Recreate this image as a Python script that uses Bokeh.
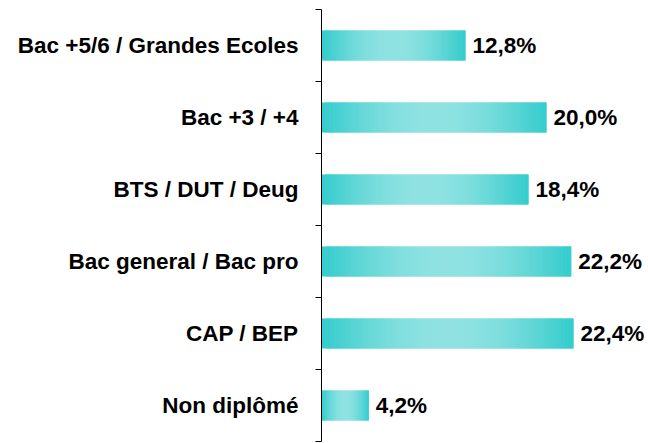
import math
from bokeh.plotting import figure
from bokeh.models import Range1d, FixedTicker, ColumnDataSource
from bokeh.embed import file_html
from bokeh.resources import INLINE
from bokeh.core.properties import value

categories = ["Non diplômé", "CAP / BEP", "Bac general / Bac pro", "BTS / DUT / Deug",
              "Bac +3 / +4", "Bac +5/6 / Grandes Ecoles"]
values = [4.2, 22.4, 22.2, 18.4, 20.0, 12.8]

EDGE = (51, 204, 204)
CENTER = (144, 226, 226)
N = 60
BAR_H = 0.42
FONT = "Liberation Sans"

p = figure(width=648, height=443, output_backend="svg", toolbar_location=None,
           x_range=Range1d(0, 29.07), y_range=Range1d(-0.5, 5.5),
           min_border_left=321, min_border_right=0, min_border_top=9, min_border_bottom=2)
p.outline_line_color = None
p.xgrid.visible = False
p.ygrid.visible = False
p.xaxis.visible = False

# gradient bars made of thin overlapping strips
L, R, T, B, C = [], [], [], [], []
for i, v in enumerate(values):
    for k in range(N):
        t0 = k / N
        t1 = min(1.0, (k + 2) / N)
        tm = (k + 0.5) / N
        w = math.sin(math.pi * tm)
        col = tuple(int(round(EDGE[j] + (CENTER[j] - EDGE[j]) * w)) for j in range(3))
        L.append(v * t0)
        R.append(v * t1)
        T.append(i + BAR_H / 2)
        B.append(i - BAR_H / 2)
        C.append("#%02x%02x%02x" % col)
p.quad(left=L, right=R, top=T, bottom=B, fill_color=C, line_color=None)

labels = [f"{v:.1f}".replace(".", ",") + "%" for v in values]
src = ColumnDataSource(dict(x=values, y=list(range(len(values))), t=labels))
p.text(x="x", y="y", text="t", source=src, x_offset=7, text_baseline="middle",
       text_align="left", text_font=value(FONT), text_font_style="bold",
       text_font_size="22.5px", text_color="black")

ax = p.yaxis[0]
ax.ticker = FixedTicker(ticks=list(range(len(categories))),
                        minor_ticks=[i - 0.5 for i in range(len(categories) + 1)])
ax.major_label_overrides = {i: c for i, c in enumerate(categories)}
ax.major_label_text_font = FONT
ax.major_label_text_font_style = "bold"
ax.major_label_text_font_size = "22.5px"
ax.major_label_text_color = "black"
ax.major_label_standoff = 17
ax.major_tick_out = 0
ax.major_tick_in = 0
ax.minor_tick_out = 6
ax.minor_tick_in = 0
ax.minor_tick_line_color = "black"
ax.axis_line_color = "black"
ax.axis_line_width = 1

open("out.html", "w").write(file_html(p, INLINE))
